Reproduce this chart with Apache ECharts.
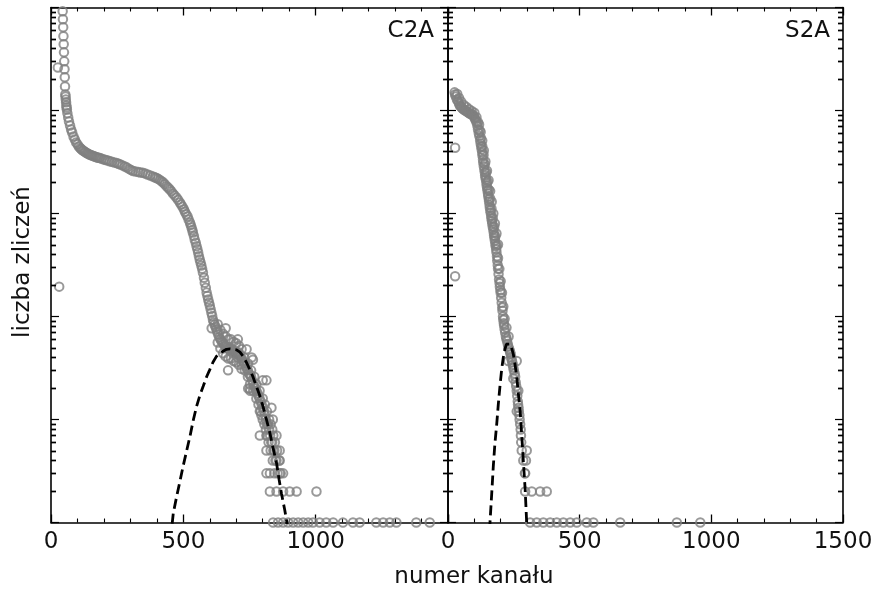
<!DOCTYPE html>
<html><head><meta charset="utf-8">
<script src="https://cdn.jsdelivr.net/npm/echarts@6/dist/echarts.min.js"></script>
<style>html,body{margin:0;padding:0;background:#fff}#c{width:877px;height:595px}</style>
</head><body><div id="c"></div>
<script>
// ---------- data (channel, counts) ----------
const xTickValues = [0, 500, 1000, 1500];
const yMajorTicks = [1, 10, 100, 1000, 10000, 100000];
const yMinorTicks = [2,3,4,5,6,7,8,9, 20,30,40,50,60,70,80,90, 200,300,400,500,600,700,800,900,
  2000,3000,4000,5000,6000,7000,8000,9000, 20000,30000,40000,50000,60000,70000,80000,90000];
const panelLabels = ['C2A', 'S2A'];
const xAxisTitle = 'numer kanału';
const yAxisTitle = 'liczba zliczeń';

const c2aBand = [
[26,26200],[31,195],
[43,108000],[44,91900],[45,76800],[46,64200],[47,52500],[48,43900],[49,36700],[50,30000],[51,25100],[52,21000],[53,17100],[54,14300],[55,13700],[56,12800],[57,12000],[58,11200],[59,10700],[60,10200],[62,9380],[65,8570],[68,7840],[72,7160],[76,6550],[80,6130],[85,5600],[90,5240],[95,4900],
[100,4690],[105,4480],[110,4330],[114,4230],[118,4140],[122,4070],[126,4010],[130,3940],[135,3870],[140,3800],[145,3740],[150,3700],[155,3660],[160,3620],[165,3580],[170,3540],[175,3500],[180,3480],[185,3460],[192,3400],[200,3350],[207,3310],[215,3270],[222,3220],[230,3180],[239,3130],[248,3090],[255,3040],[262,2990],[270,2930],[279,2860],[287,2790],[295,2710],[302,2650],[310,2590],[320,2560],[330,2530],[338,2500],[347,2480],[356,2440],[365,2390],[375,2340],[385,2290],[392,2250],[398,2210],[405,2170],[411,2120],[418,2060],[424,2000],[430,1920],[437,1840],[443,1780],[449,1710],[455,1640],[461,1560],[467,1500],[474,1430],[480,1360],[487,1280],[492,1220],[497,1160],[502,1100],[506,1040],[511,985],[516,935],[520,875],[525,818],[528,775],[531,731],[534,690],[536,653],[540,605],[543,558],[547,520],[550,481],[553,450],[556,418],[559,385],[562,357],[565,335],[568,313],[571,290],[574,267],[578,238],[581,213],[585,190],[588,171],[591,158],[594,146],[597,137],[600,128],[603,118],[606,109],[609,101],[612,93],[615,88],[618,83],[622,79],[625,75],[628,71],[632,67],[636,63],[640,60],[644,58],[648,56],[652,54],[656,52],[660,51],[664,50],[668,49],[672,48],[676,48],[680,49],[684,48],[688,47],[692,46],[696,45],[700,45],[704,44],[708,43],[712,42],[716,41],[720,39],[724,37],[728,36],[732,35],[736,33],[740,31],[744,30],[748,28],[752,27],[756,26],[760,24],[764,22],[768,21],[772,20],[776,19],[780,18],[784,17],[788,16],[792,15],[796,14],[800,13],[804,12],[808,11],[812,10],[816,9],[820,9],[824,8],[828,7],[832,6],[836,6],[840,5],[844,5],[848,4],[852,4],[856,3]
];
const c2aBandEdges = [
[630,84],[640,74],[650,68],[660,64],[670,60],[680,60],[690,57],[700,55],[710,52],[720,48],
[630,56],[640,49],[650,44],[660,41],[670,39],[680,39],[690,37],[700,36],[710,34],[720,31],
[684,45],[708,45],[706,40],[730,40],[720,35],[744,35],[732,30],[756,30],[744,26],[768,26],[752,22],[776,22],[764,19],[788,19],[776,16],[800,16],[784,14],[808,14],[792,12],[816,12],[800,10],[824,10],[806,9],[830,9],[812,8],[836,8],[816,7],[840,7],[822,6],[846,6],[830,5],[854,5],[838,4],[862,4],[844,3],[868,3]
];
const c2aScatter = [
[607,77],[660,77],[706,60],[669,30],[745,20],[753,19],[758,40],[795,11],[814,24],[833,13],[814,7],[864,4],[827,3],[864,3],[739,48],[763,38],[800,24],[751,20],[789,12],[838,10],[789,7],[852,7],[814,5],[864,5],[814,3],[877,3],
[827,2],[852,2],[877,2],[902,2],[928,2],[1003,2],
[839,1],[858,1],[877,1],[896,1],[915,1],[934,1],[953,1],[972,1],[990,1],[1015,1],[1040,1],[1066,1],[1103,1],[1141,1],[1166,1],[1229,1],[1255,1],[1280,1],[1305,1],[1380,1],[1431,1]
];
const c2aFit = [
[452,0.7],[462,1.23],[475,1.8],[487,2.5],[499,3.5],[512,4.9],[525,6.85],[537,9.7],[550,13.4],[562,17],[575,21],[588,26],[600,30.5],[612,36],[625,41],[638,44],[650,46],[663,48],[676,48.5],[688,48],[701,47.5],[714,45],[726,41],[738,36],[751,30.5],[763,26],[776,21],[789,17],[801,13.4],[814,10],[827,7.4],[839,5.3],[852,3.8],[862,2.6],[871,1.9],[883,1.33],[893,0.95],[900,0.7]
];

const s2aBand = [
[27,4350],[27,246],
[25,15000],[27,14300],[30,13700],[34,12800],[38,12300],[42,11700],[45,11200],[49,10900],[52,10700],[56,10400],[60,10200],[64,10050],[68,9910],[72,9750],[76,9590],[80,9430],[84,9270],[88,9220],[92,9170],[95,8970],[98,8770],[101,8480],[104,8200],[107,7900],[109,7600],[112,7050],[114,6550],[117,6000],[119,5640],[122,5150],[124,4790],[126,4480],[128,4190],[130,3900],[131,3660],[133,3350],[134,3110],[136,2880],[138,2680],[140,2500],[141,2340],[143,2230],[144,2140],[146,1990],[147,1870],[149,1760],[150,1670],[152,1560],[153,1470],[155,1380],[156,1310],[158,1210],[159,1140],[161,1070],[162,1020],[164,950],[165,894],[167,840],[168,800],[170,745],[172,700],[174,650],[175,611],[177,575],[178,547],[180,510],[181,481],[183,450],[184,420],[186,385],[187,350],[189,315],[190,290],[192,258],[194,229],[196,210],[197,195],[199,180],[200,170],[202,152],[204,136],[206,122],[207,114],[209,100],[210,93],[212,86],[213,82],[215,75],[217,70],[220,64],[222,61],[224,58],[227,54],[229,51],[231,49],[234,47],[236,45],[238,43],[240,40],[242,38],[244,36],[246,34],[248,32],[250,30],[253,28],[255,26],[257,23],[259,21],[261,19],[263,17],[265,15],[266,14],[268,13],[269,12],[271,11],[272,10],[274,9],[276,8],[277,7],[278,6],[280,5],[286,4],[292,3]
];
const s2aBandEdges = [
[35,14500],[42,13200],[50,12200],[60,11300],[70,10800],[80,10300],[90,9900],[100,9500],[108,8600],[114,7700],[120,6400],[125,5400],[130,4500],[135,3700],[140,3000],[145,2500],[150,2050],[155,1700],[160,1400],[165,1120],[170,900],[175,740],[180,600],[185,490],[190,370],[195,290],[200,220],[205,170],[210,125],[215,95],[222,78],[230,64],
[118,7300],[124,6200],[130,5100],[136,4100],[142,3200],[148,2600],[154,2100],[160,1650],[166,1300],[172,1000],[178,800],[184,640],[190,500]
];
const s2aScatter = [
[229,37],[261,37],[248,25],[267,19],[261,12],[299,5],[293,3],[296,4],
[293,2],[318,2],[350,2],[375,2],
[312,1],[337,1],[362,1],[388,1],[413,1],[438,1],[464,1],[489,1],[527,1],[552,1],[654,1],[869,1],[958,1]
];
const s2aFit = [
[155,0.6],[160,1.06],[166,1.9],[172,3.5],[178,5.8],[185,9],[191,14],[198,22],[204,31],[210,40],[216,48],[222,54],[229,56],[236,54],[242,49],[248,43],[254,35],[261,26],[267,18],[274,12],[280,7],[286,4],[293,2.1],[298,1.1],[303,0.55]
];

// ---------- chart ----------
const FONT = '"DejaVu Sans", "Liberation Sans", sans-serif';
const BLACK = '#000';
const X_MIN = xTickValues[0], X_MAX = xTickValues[xTickValues.length - 1];
const Y_MIN = yMajorTicks[0], Y_MAX = yMajorTicks[yMajorTicks.length - 1];
const E_MIN = Math.log10(Y_MIN), E_MAX = Math.log10(Y_MAX);
const toExp = arr => arr.map(v => Math.log10(v));
const GRIDS = [
  { left: 51, width: 397, top: 7.5, height: 515 },
  { left: 448, width: 395, top: 7.5, height: 515 }
];
const MINOR_LEN = 5;
const MINOR_W = 1.4;

function xAx(gi, pos, showLabels, hideLast) {
  return {
    type: 'value', gridIndex: gi, position: pos, min: X_MIN, max: X_MAX, interval: 500,
    axisLine: { show: true, onZero: false, lineStyle: { color: BLACK, width: 1.6 } },
    axisTick: { show: true, inside: true, length: 8, lineStyle: { color: BLACK, width: 1.3 } },
    minorTick: { show: true, splitNumber: 5, length: 4, lineStyle: { color: BLACK, width: 1.1 } },
    splitLine: { show: false }, minorSplitLine: { show: false },
    axisLabel: {
      show: showLabels, margin: 8, fontSize: 23, fontFamily: FONT, color: '#111',
      formatter: v => (hideLast && v === X_MAX) ? '' : String(v)
    }
  };
}
function yLog(gi) {
  return {
    type: 'log', logBase: 10, gridIndex: gi, position: 'left', min: Y_MIN, max: Y_MAX,
    axisLine: { show: true, onZero: false, lineStyle: { color: BLACK, width: 1.6 } },
    axisTick: { show: false }, axisLabel: { show: false }, splitLine: { show: false }, minorTick: { show: false }
  };
}
// tick-only axes in decade (exponent) space
function yTick(gi, pos, line) {
  return {
    type: 'value', gridIndex: gi, position: pos, min: E_MIN, max: E_MAX, interval: 1,
    axisLine: { show: line, onZero: false, lineStyle: { color: BLACK, width: 1.6 } },
    axisTick: { show: true, inside: true, length: 8, customValues: toExp(yMajorTicks), lineStyle: { color: BLACK, width: 1.2 } },
    axisLabel: { show: false }, splitLine: { show: false }, minorTick: { show: false }
  };
}

const scatterStyle = { color: 'rgba(0,0,0,0)', borderColor: '#7f7f7f', borderWidth: 2 };
function scat(xi, yi, data) {
  return { type: 'scatter', xAxisIndex: xi, yAxisIndex: yi, data: data, symbol: 'circle', symbolSize: 8.5,
    itemStyle: scatterStyle, silent: true, animation: false, clip: true, emphasis: { disabled: true } };
}
function fit(xi, yi, data) {
  return { type: 'line', xAxisIndex: xi, yAxisIndex: yi, data: data, symbol: 'none', showSymbol: false,
    lineStyle: { color: BLACK, width: 2.8, type: [10, 5] }, silent: true, animation: false, clip: true, z: 5 };
}
// minor log ticks drawn by a custom series: each tick is placed with api.coord on the panel's log axis
function minorTickSeries(xi, yi, xEdge, dir) {
  return {
    type: 'custom', xAxisIndex: xi, yAxisIndex: yi, silent: true, animation: false, clip: false, z: 8,
    data: yMinorTicks.map(v => [xEdge, v]),
    encode: { x: 0, y: 1 },
    renderItem: function (params, api) {
      const p = api.coord([api.value(0), api.value(1)]);
      const y = Math.round(p[1]);
      return {
        type: 'rect',
        shape: { x: dir > 0 ? p[0] : p[0] - MINOR_LEN, y: y - MINOR_W / 2 + 0.5, width: MINOR_LEN, height: MINOR_W },
        style: { fill: BLACK }
      };
    }
  };
}

const chart = echarts.init(document.getElementById('c'), null, { renderer: 'canvas' });
chart.setOption({
  animation: false,
  backgroundColor: '#fff',
  grid: GRIDS,
  xAxis: [
    xAx(0, 'bottom', true, true), xAx(0, 'top', false, false),
    xAx(1, 'bottom', true, false), xAx(1, 'top', false, false)
  ],
  yAxis: [
    yLog(0), yTick(0, 'left', false), yTick(0, 'right', true),
    yLog(1), yTick(1, 'left', false), yTick(1, 'right', true)
  ],
  series: [
    scat(0, 0, c2aBand), scat(0, 0, c2aBandEdges), scat(0, 0, c2aScatter), fit(0, 0, c2aFit),
    scat(2, 3, s2aBand), scat(2, 3, s2aBandEdges), scat(2, 3, s2aScatter), fit(2, 3, s2aFit),
    minorTickSeries(0, 0, X_MIN, 1), minorTickSeries(0, 0, X_MAX, -1),
    minorTickSeries(2, 3, X_MIN, 1), minorTickSeries(2, 3, X_MAX, -1)
  ]
});

function textEl(text, x, y, align, rot) {
  return { type: 'text', x: x, y: y, rotation: rot || 0, silent: true, z: 20,
    style: { text: text, font: '23px ' + FONT, fill: '#111', align: align, verticalAlign: 'middle', textAlign: align, textVerticalAlign: 'middle' } };
}
const graphicEls = [
  textEl(xAxisTitle, 474, 577, 'center'),
  textEl(yAxisTitle, 23, 262, 'center', Math.PI / 2),
  textEl(panelLabels[0], 434, 31, 'right'),
  textEl(panelLabels[1], 830, 31, 'right')
];
// second, independent placement of the same minor ticks (decade-space mapping of the grid), as filled rects
GRIDS.forEach(g => {
  toExp(yMinorTicks).forEach(e => {
    const y = Math.round(g.top + g.height * (1 - (e - E_MIN) / (E_MAX - E_MIN)));
    graphicEls.push({ type: 'rect', silent: true, z: 20,
      shape: { x: g.left, y: y - MINOR_W / 2 + 0.5, width: MINOR_LEN, height: MINOR_W }, style: { fill: BLACK } });
    graphicEls.push({ type: 'rect', silent: true, z: 20,
      shape: { x: g.left + g.width - MINOR_LEN, y: y - MINOR_W / 2 + 0.5, width: MINOR_LEN, height: MINOR_W }, style: { fill: BLACK } });
  });
});
chart.setOption({ graphic: graphicEls });
</script>
</body></html>
